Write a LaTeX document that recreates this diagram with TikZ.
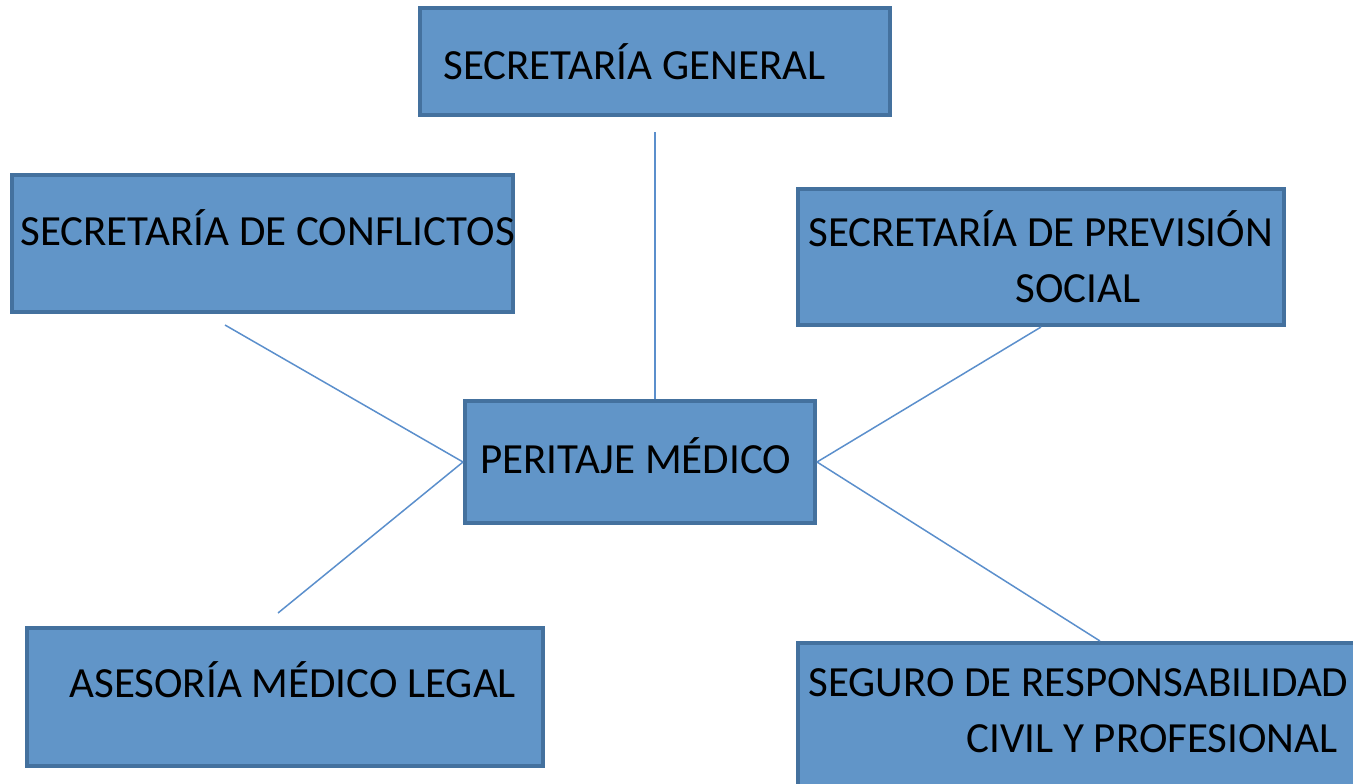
\documentclass[tikz,border=0pt]{standalone}
\usepackage{fontspec}
\setmainfont{Carlito}
\definecolor{cajafondo}{HTML}{6195C8}
\definecolor{cajaborde}{HTML}{44719E}
\definecolor{lineaazul}{HTML}{5B8FCC}
\begin{document}
\begin{tikzpicture}[x=0.5pt,y=-0.5pt,
    caja/.style={rectangle, draw=cajaborde, fill=cajafondo, line width=2pt, inner sep=0pt},
    texto/.style={anchor=base west, inner sep=0pt, align=left, font=\fontsize{21.5}{28}\selectfont},
    linea/.style={draw=lineaazul, line width=0.75pt}]
        \useasboundingbox (0,0) rectangle (1353,783);

        \node[caja, minimum width=235pt, minimum height=53.5pt] (gen) at (655, 61.5) {};
        \node[caja, minimum width=250.5pt, minimum height=68.5pt] (conf) at (262.5, 243.5) {};
        \node[caja, minimum width=243pt, minimum height=68pt] (prev) at (1041, 257) {};
        \node[caja, minimum width=175pt, minimum height=61pt] (per) at (640, 462) {};
        \node[caja, minimum width=258pt, minimum height=69pt] (ases) at (285, 697) {};
        \node[caja, minimum width=286pt, minimum height=73.5pt] (seg) at (1084, 716.5) {};

        % two-line texts: base is the last line
        \node[texto] (gen-t) at (443, 79) {SECRETARÍA GENERAL};
        \node[texto] (conf-t) at (20, 245) {SECRETARÍA DE CONFLICTOS};
        \node[texto] (prev-t) at (808, 302) {SECRETARÍA DE PREVISIÓN\\\hspace*{103.5pt}SOCIAL};
        \node[texto] (per-t) at (480, 473) {PERITAJE MÉDICO};
        \node[texto] (ases-t) at (69, 697) {ASESORÍA MÉDICO LEGAL};
        \node[texto] (seg-t) at (808, 752) {SEGURO DE RESPONSABILIDAD\\\hspace*{79pt}CIVIL Y PROFESIONAL};

        \draw[linea] ([yshift=-7.5pt]gen.south) -- (per.north -| gen.south);
        \draw[linea] ([shift={(-37.5,11)}]conf.south) -- (per.west);
        \draw[linea] ([shift={(-7,-13)}]ases.north) -- (per.west);
        \draw[linea] (prev.south) -- (per.east);
        \draw[linea] (per.east) -- ([xshift=8pt]seg.north);

    \end{tikzpicture}
\end{document}
